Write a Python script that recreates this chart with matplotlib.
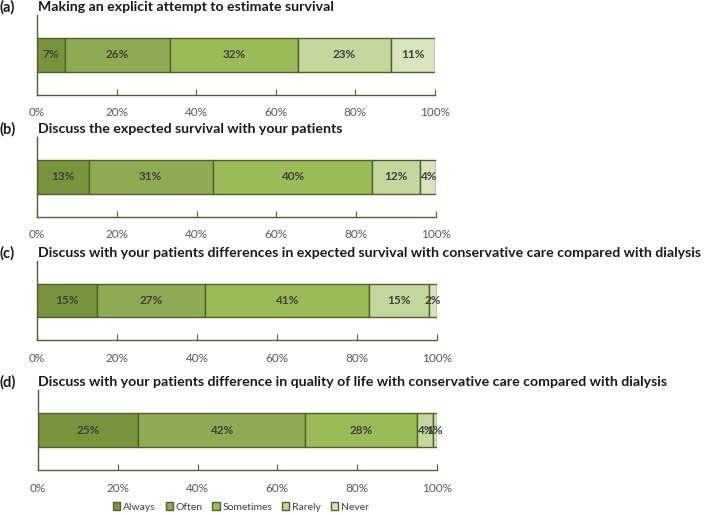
import numpy as np
import matplotlib.pyplot as plt

categories = ['Always', 'Often', 'Sometimes', 'Rarely', 'Never']
panel_tags = ['(a)', '(b)', '(c)', '(d)']
titles = [
    'Making an explicit attempt to estimate survival',
    'Discuss the expected survival with your patients',
    'Discuss with your patients differences in expected survival with conservative care compared with dialysis',
    'Discuss with your patients difference in quality of life with conservative care compared with dialysis',
]
values_a = [7, 26, 32, 23, 11]
values_b = [13, 31, 40, 12, 4]
values_c = [15, 27, 41, 15, 2]
values_d = [25, 42, 28, 4, 1]
xticks = [0, 20, 40, 60, 80, 100]
xticklabels = ['0%', '20%', '40%', '60%', '80%', '100%']

colors = ['#77933C', '#8EAA52', '#9BBB59', '#C3D69B', '#D7E4BD']
edge = '#4F6228'
label_color = '#404040'

plt.rcParams['font.family'] = ['Lato', 'DejaVu Sans']

fig = plt.figure(figsize=(7.17, 5.15), dpi=100)
W, H = 717.0, 515.0

# (left, right, axis top, axis bottom) in pixels
boxes = [(37, 435, 15, 95), (37, 436, 137, 217), (37, 437, 261, 340), (38, 437, 390, 470)]
all_vals = [values_a, values_b, values_c, values_d]

for tag, title, vals, (l, r, t, b) in zip(panel_tags, titles, all_vals, boxes):
    ax = fig.add_axes([l / W, 1 - b / H, (r - l) / W, (b - t) / H])
    v = np.array(vals, dtype=float)
    v = v / v.sum() * 100  # 100% stacked
    left = 0
    for i, (seg, lab) in enumerate(zip(v, vals)):
        ax.barh(0.5, seg, left=left, height=0.42, color=colors[i],
                edgecolor=edge, linewidth=1.0, label=categories[i])
        ax.text(left + seg / 2, 0.5, '%d%%' % lab, ha='center', va='center',
                fontsize=8.5, fontweight='bold', color=label_color)
        left += seg
    ax.set_xlim(0, 100)
    ax.set_ylim(0, 1)
    ax.set_yticks([])
    ax.set_xticks(xticks)
    ax.set_xticklabels(xticklabels, fontsize=8.5, color='#595959')
    ax.tick_params(axis='x', direction='in', length=4, color='#5a5a3a', pad=9)
    for s in ['top', 'right']:
        ax.spines[s].set_visible(False)
    for s in ['left', 'bottom']:
        ax.spines[s].set_color('#5a5a3a')
        ax.spines[s].set_linewidth(1.0)
    fig.text(0 / W, 1 - (t - 8) / H, tag, fontsize=10.5, fontweight='bold',
             va='center', ha='left', color='#1a1a1a')
    fig.text(38 / W, 1 - (t - 8) / H, title, fontsize=10.2, fontweight='bold',
             va='center', ha='left', color='#1a1a1a')

handles, labels = ax.get_legend_handles_labels()
fig.legend(handles, labels, loc='center', bbox_to_anchor=(241 / W, 1 - 507 / H),
           ncol=5, frameon=False, fontsize=7.5, handlelength=0.7, handleheight=0.7,
           handletextpad=0.3, columnspacing=0.9, labelcolor='#404040')

fig.savefig('out.png', dpi=100)
